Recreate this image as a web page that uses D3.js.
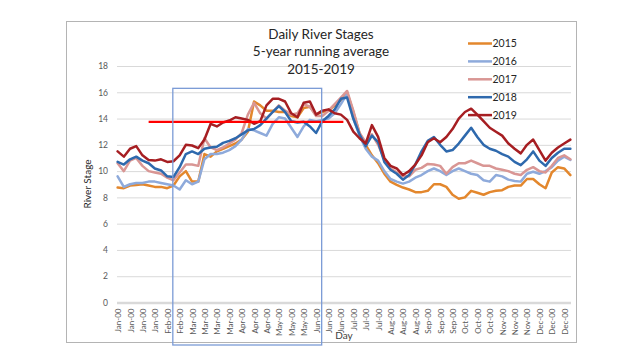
<!DOCTYPE html>
<html>
<head>
<meta charset="utf-8">
<script src="https://cdn.jsdelivr.net/npm/d3@7/dist/d3.min.js"></script>
<style>
html,body{margin:0;padding:0;background:#fff;}
svg{display:block;}
</style>
</head>
<body>
<svg id="chart" width="640" height="360"></svg>
<script>
// ---- data ----
const titleLines = ["Daily River Stages", "5-year running average", "2015-2019"];
const seriesNames = ["2015", "2016", "2017", "2018", "2019"];
const seriesColors = ["#e3872d", "#8eaadb", "#d99694", "#2e69ad", "#a61e22"];
const days = [0,5,10,15,20,25,30,35,40,45,50,55,60,65,70,75,80,85,90,95,100,105,110,115,120,125,130,135,140,145,150,155,160,165,170,175,180,185,190,195,200,205,210,215,220,225,230,235,240,245,250,255,260,265,270,275,280,285,290,295,300,305,310,315,320,325,330,335,340,345,350,355,360,365];
const v2015 = [8.75,8.7,8.9,8.95,9.0,8.9,8.8,8.8,8.7,8.9,9.6,10.0,9.2,9.2,11.3,11.1,11.5,11.7,11.9,12.1,12.4,13.0,15.3,15.0,14.6,14.6,14.5,14.5,14.2,14.1,14.8,14.9,14.3,14.5,14.6,15.0,15.4,16.0,14.5,12.9,12.0,11.2,10.6,9.8,9.2,8.95,8.75,8.6,8.4,8.4,8.5,9.0,9.0,8.8,8.2,7.9,8.0,8.5,8.35,8.2,8.4,8.5,8.55,8.8,8.9,8.9,9.4,9.4,9.0,8.7,9.9,10.3,10.2,9.7];
const v2016 = [9.6,8.8,9.0,9.1,9.1,9.2,9.2,9.1,9.0,8.9,8.6,9.3,9.0,9.2,10.9,11.3,11.3,11.4,11.6,11.9,12.4,13.2,13.1,12.9,12.7,13.6,14.1,14.0,13.3,12.6,13.4,13.9,13.8,13.9,14.0,14.4,15.1,15.9,14.0,12.7,11.7,11.1,10.8,10.0,9.4,9.2,9.05,9.2,9.5,9.7,10.0,10.2,10.0,9.7,10.0,10.2,10.0,9.8,9.7,9.3,9.2,9.7,9.6,9.35,9.25,9.2,9.8,9.95,9.8,10.0,10.3,10.8,11.1,10.85];
const v2017 = [10.6,10.0,10.8,11.0,10.4,10.0,9.9,9.8,9.5,9.3,9.9,10.5,10.5,10.4,12.5,11.8,11.6,11.8,12.1,12.4,12.9,14.3,15.2,14.4,14.0,14.5,15.0,14.6,14.3,14.4,15.1,14.9,14.2,14.2,14.6,15.1,15.6,16.1,14.6,12.9,12.2,12.8,12.0,10.9,10.2,9.9,9.6,9.6,10.1,10.25,10.55,10.5,10.4,9.8,10.3,10.6,10.6,10.8,10.6,10.4,10.4,10.2,10.1,10.0,9.8,9.7,10.1,10.3,10.0,9.9,10.4,11.0,11.2,10.9];
const v2018 = [10.7,10.5,10.9,11.1,10.8,10.6,10.2,10.05,9.6,9.55,10.3,11.3,11.5,11.3,11.7,11.8,11.85,12.15,12.3,12.5,12.8,13.1,13.2,13.5,14.0,14.5,14.95,14.5,13.8,13.7,13.75,13.4,12.9,13.8,14.2,14.7,15.5,15.6,14.0,12.8,11.9,12.7,12.2,10.7,10.1,9.8,9.35,9.7,10.5,11.5,12.3,12.6,12.0,11.5,11.6,12.1,12.7,13.3,12.6,12.0,11.7,11.55,11.3,11.1,10.7,10.45,10.9,11.5,10.8,10.4,11.0,11.4,11.7,11.7];
const v2019 = [11.5,11.1,11.7,11.9,11.2,10.85,10.8,10.9,10.7,10.75,11.2,12.0,11.95,11.75,12.4,13.6,13.4,13.7,13.85,14.1,14.0,13.9,13.6,13.8,15.0,15.5,15.5,15.3,14.4,14.1,15.2,15.3,14.3,14.6,14.7,14.4,14.3,13.9,13.0,12.5,12.1,13.5,12.6,11.0,10.4,10.2,9.7,10.0,10.5,11.2,12.2,12.5,12.2,12.6,13.2,14.0,14.5,14.75,14.3,13.8,13.3,13.0,12.7,12.1,11.7,11.35,12.0,12.4,11.6,10.8,11.4,11.8,12.1,12.4];
const seriesValues = [v2015, v2016, v2017, v2018, v2019];
const yTicks = [0,2,4,6,8,10,12,14,16,18];
const tickDays = [0,10,20,30,40,50,60,70,80,90,100,110,120,130,140,150,160,170,180,190,200,210,220,230,240,250,260,270,280,290,300,310,320,330,340,350,360];
const tickLabels = ["Jan-00","Jan-00","Jan-00","Jan-00","Feb-00","Feb-00","Mar-00","Mar-00","Mar-00","Mar-00","Apr-00","Apr-00","Apr-00","May-00","May-00","May-00","Jun-00","Jun-00","Jun-00","Jul-00","Jul-00","Jul-00","Aug-00","Aug-00","Aug-00","Sep-00","Sep-00","Sep-00","Oct-00","Oct-00","Oct-00","Nov-00","Nov-00","Nov-00","Dec-00","Dec-00","Dec-00"];
// annotations: horizontal red reference line and blue highlight box (in data units)
const refLine = {startDay: 25, endDay: 182, value: 13.75};
const highlightBox = {startDay: 44.5, endDay: 164.5, top: 16.3};

// ---- layout ----
const svg = d3.select("#chart");
const font = "Lato, 'Open Sans', sans-serif";
const plot = {left: 117, right: 571, top: 66, bottom: 302.5};
const x = d3.scaleLinear().domain([-0.5, 365.5]).range([plot.left, plot.right]);
const y = d3.scaleLinear().domain([0, 18]).range([plot.bottom, plot.top]);

// outer frame
svg.append("rect").attr("x", 66.5).attr("y", 21.5).attr("width", 510).attr("height", 321)
  .attr("fill", "#fff").attr("stroke", "#b4b4b4").attr("stroke-width", 1);

// gridlines + y labels
const yAxis = d3.axisLeft(y).tickValues(yTicks).tickSize(-(plot.right - plot.left)).tickPadding(9);
const gy = svg.append("g").attr("transform", `translate(${plot.left},0)`).call(yAxis);
gy.select(".domain").remove();
gy.selectAll(".tick line").attr("stroke", "#d9d9d9").attr("stroke-width", 1);
gy.selectAll(".tick text").attr("fill", "#595959").attr("font-family", font).attr("font-size", 8.5);
gy.selectAll(".tick").filter(d => d === 0).select("line").attr("stroke", "#d9d9d9").attr("stroke-width", 2.5);

// x axis labels
const xAxis = d3.axisBottom(x).tickValues(tickDays).tickFormat((d, i) => tickLabels[i]).tickSize(0).tickPadding(0);
const gx = svg.append("g").attr("transform", `translate(0,${plot.bottom})`).call(xAxis);
gx.select(".domain").remove();
gx.selectAll(".tick text")
  .attr("fill", "#595959").attr("font-family", font).attr("font-size", 8)
  .attr("text-anchor", "end").attr("dominant-baseline", "central")
  .attr("transform", "translate(0,6) rotate(-90)").attr("x", 0).attr("y", 0).attr("dy", null);

// series lines
const line = d3.line().x((d, i) => x(days[i])).y(d => y(d)).curve(d3.curveLinear);
seriesValues.forEach((vals, k) => {
  svg.append("path").datum(vals).attr("d", line)
    .attr("fill", "none").attr("stroke", seriesColors[k]).attr("stroke-width", 2.5)
    .attr("stroke-linejoin", "round").attr("stroke-linecap", "round");
});

// red reference line
svg.append("line")
  .attr("x1", x(refLine.startDay)).attr("x2", x(refLine.endDay))
  .attr("y1", y(refLine.value)).attr("y2", y(refLine.value))
  .attr("stroke", "#ff0000").attr("stroke-width", 2.3);

// blue highlight box
svg.append("rect")
  .attr("x", x(highlightBox.startDay)).attr("y", y(highlightBox.top))
  .attr("width", x(highlightBox.endDay) - x(highlightBox.startDay))
  .attr("height", 345 - y(highlightBox.top))
  .attr("fill", "none").attr("stroke", "#7b9bd6").attr("stroke-width", 1.3);

// title
svg.append("g").selectAll("text").data(titleLines).join("text")
  .attr("x", 321).attr("y", (d, i) => 39 + i * 17.4)
  .attr("text-anchor", "middle").attr("font-family", font).attr("font-size", 13.5)
  .attr("fill", "#262626").text(d => d);

// axis titles
svg.append("text").attr("transform", "translate(91,184) rotate(-90)")
  .attr("text-anchor", "middle").attr("font-family", font).attr("font-size", 10)
  .attr("fill", "#262626").text("River Stage");
svg.append("text").attr("x", 344).attr("y", 339)
  .attr("text-anchor", "middle").attr("font-family", font).attr("font-size", 10)
  .attr("fill", "#404040").text("Day");

// legend
const lg = svg.append("g");
seriesNames.forEach((name, k) => {
  const ly = 43.5 + k * 17.9;
  lg.append("line").attr("x1", 468).attr("x2", 492).attr("y1", ly).attr("y2", ly)
    .attr("stroke", seriesColors[k]).attr("stroke-width", 2.5);
  lg.append("text").attr("x", 492.5).attr("y", ly).attr("dy", "0.36em")
    .attr("font-family", font).attr("font-size", 10.5).attr("fill", "#262626").text(name);
});
</script>
</body>
</html>
